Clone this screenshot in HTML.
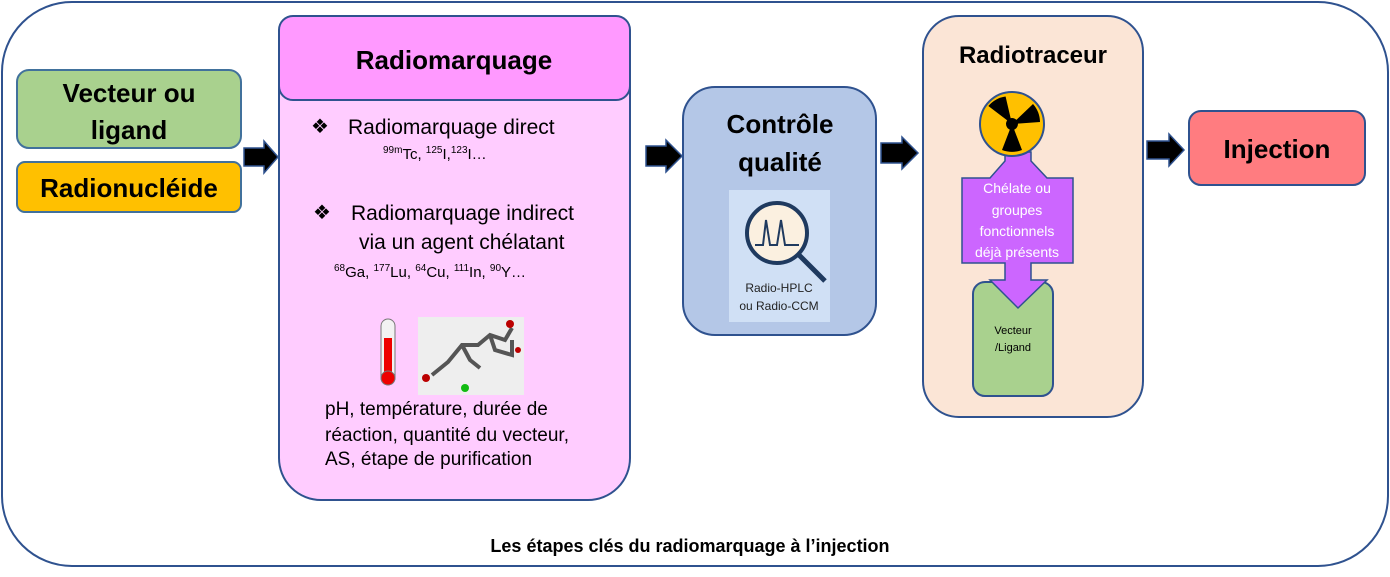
<!DOCTYPE html>
<html><head><meta charset="utf-8"><style>
html,body{margin:0;padding:0;background:#fff}
svg{display:block}
text{font-family:"Liberation Sans",sans-serif}
.b{font-weight:bold}
</style></head><body>
<svg width="1390" height="577" viewBox="0 0 1390 577" xmlns="http://www.w3.org/2000/svg">
<rect x="2" y="2" width="1386" height="564" rx="70" fill="#fff" stroke="#2f528f" stroke-width="2"/>
<rect x="17" y="70" width="224" height="78" rx="12" fill="#a9d18e" stroke="#41719c" stroke-width="2"/>
<text x="129" y="102" class="b" font-size="26" text-anchor="middle">Vecteur ou</text>
<text x="129" y="139" class="b" font-size="26" text-anchor="middle">ligand</text>
<rect x="17" y="162" width="224" height="50" rx="8" fill="#ffc000" stroke="#41719c" stroke-width="2"/>
<text x="129" y="197" class="b" font-size="26" text-anchor="middle">Radionucléide</text>
<g fill="#000" stroke="#2f528f" stroke-width="1.5">
<path d="M244,148 H264 V141 L278,157 L264,173 V166 H244 Z"/>
<path d="M646,146 H666 V140 L682,156 L666,172 V166 H646 Z"/>
<path d="M881,143 H902 V137 L918,153 L902,169 V163 H881 Z"/>
<path d="M1147,141 H1169 V134 L1184,150 L1169,166 V159 H1147 Z"/>
</g>
<rect x="279" y="16" width="351" height="484" rx="42" fill="#ffccff" stroke="#2f528f" stroke-width="2"/>
<rect x="279" y="16" width="351" height="84" rx="14" fill="#ff99ff" stroke="#2f528f" stroke-width="2"/>
<text x="454" y="69" class="b" font-size="26" text-anchor="middle">Radiomarquage</text>
<text x="311" y="133" font-size="20">❖</text>
<text x="348" y="134" font-size="21">Radiomarquage direct</text>
<text x="383" y="159" font-size="15"><tspan font-size="10" dy="-6">99m</tspan><tspan dy="6">Tc, </tspan><tspan font-size="10" dy="-6">125</tspan><tspan dy="6">I,</tspan><tspan font-size="10" dy="-6">123</tspan><tspan dy="6">I…</tspan></text>
<text x="313" y="219" font-size="20">❖</text>
<text x="351" y="220" font-size="21">Radiomarquage indirect</text>
<text x="359" y="249" font-size="21">via un agent chélatant</text>
<text x="334" y="277" font-size="15"><tspan font-size="10" dy="-6">68</tspan><tspan dy="6">Ga, </tspan><tspan font-size="10" dy="-6">177</tspan><tspan dy="6">Lu, </tspan><tspan font-size="10" dy="-6">64</tspan><tspan dy="6">Cu, </tspan><tspan font-size="10" dy="-6">111</tspan><tspan dy="6">In, </tspan><tspan font-size="10" dy="-6">90</tspan><tspan dy="6">Y…</tspan></text>
<rect x="381" y="319" width="14" height="66" rx="7" fill="#f2f2f2" stroke="#777"/>
<rect x="384" y="338" width="8" height="40" fill="#e00"/>
<circle cx="388" cy="378" r="7" fill="#e00" stroke="#777"/>
<rect x="418" y="317" width="106" height="78" fill="#eeeeee"/>
<g stroke="#555" stroke-width="4" fill="none">
<path d="M432,375 L448,362 L462,345 L478,345 L490,335 L505,340 L512,328 M462,345 L470,360 L480,368 M490,335 L495,350 L512,355 L512,340"/>
</g>
<circle cx="426" cy="378" r="4" fill="#b00"/><circle cx="510" cy="324" r="4" fill="#b00"/><circle cx="518" cy="350" r="3" fill="#b00"/><circle cx="465" cy="388" r="4" fill="#1b1"/>
<text x="325" y="415" font-size="19">pH, température, durée de</text>
<text x="325" y="441" font-size="19">réaction,  quantité du vecteur,</text>
<text x="325" y="465" font-size="19">AS, étape de purification</text>
<rect x="683" y="87" width="193" height="248" rx="32" fill="#b4c7e7" stroke="#2f528f" stroke-width="2"/>
<text x="780" y="133" class="b" font-size="26" text-anchor="middle">Contrôle</text>
<text x="780" y="171" class="b" font-size="26" text-anchor="middle">qualité</text>
<rect x="729" y="190" width="101" height="132" fill="#d0e0f5"/>
<circle cx="777" cy="233" r="30" fill="#fbf0e0" stroke="#1f3a5f" stroke-width="4"/>
<line x1="799" y1="255" x2="825" y2="281" stroke="#1f3a5f" stroke-width="5"/>
<path d="M755,245 H763 L766,220 L770,245 H777 L781,220 L785,245 H799" fill="none" stroke="#1f3a5f" stroke-width="2"/>
<text x="779" y="292" font-size="12" text-anchor="middle" fill="#222">Radio-HPLC</text>
<text x="779" y="310" font-size="12" text-anchor="middle" fill="#222">ou Radio-CCM</text>
<rect x="923" y="16" width="220" height="401" rx="36" fill="#fbe5d6" stroke="#2f528f" stroke-width="2"/>
<text x="1033" y="63" class="b" font-size="24" text-anchor="middle">Radiotraceur</text>
<rect x="973" y="282" width="80" height="114" rx="12" fill="#a9d18e" stroke="#2f528f" stroke-width="2"/>
<text x="1013" y="334" font-size="11" text-anchor="middle">Vecteur</text>
<text x="1013" y="351" font-size="11" text-anchor="middle">/Ligand</text>
<path d="M990,178 L1005,161 L1005,152 L1031,152 L1031,161 L1047,178 L1073,178 L1073,263 L1031,263 L1031,280 L1047,280 L1018,308 L990,280 L1005,280 L1005,263 L962,263 L962,178 Z" fill="#cc66ff" stroke="#2f528f" stroke-width="1.5"/>
<circle cx="1012" cy="124" r="32" fill="#ffc000" stroke="#2f528f" stroke-width="2"/>
<g fill="#000">
<path d="M1012,124 L990,104 A28,28 0 0 1 1008,96 Z" transform="rotate(-5 1012 124)"/>
<path d="M1012,124 L1033,104 A28,28 0 0 1 1040,122 Z"/>
<path d="M1012,124 L1022,150 A28,28 0 0 1 1002,150 Z"/>
</g>
<circle cx="1012" cy="124" r="6" fill="#000"/>
<g fill="#fff" font-size="14" text-anchor="middle">
<text x="1017" y="193">Chélate ou</text>
<text x="1017" y="215">groupes</text>
<text x="1017" y="236">fonctionnels</text>
<text x="1017" y="257">déjà présents</text>
</g>
<rect x="1189" y="111" width="176" height="74" rx="12" fill="#ff7c80" stroke="#2f528f" stroke-width="2"/>
<text x="1277" y="158" class="b" font-size="26" text-anchor="middle">Injection</text>
<text x="690" y="552" class="b" font-size="18" text-anchor="middle">Les étapes clés du radiomarquage à l’injection</text>
</svg>
</body></html>
